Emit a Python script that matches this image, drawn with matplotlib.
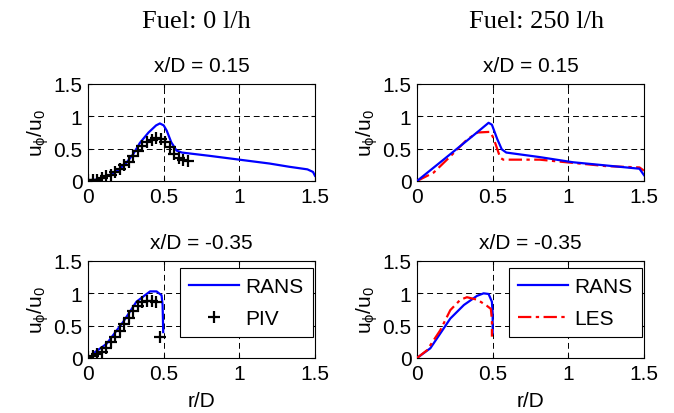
import matplotlib
matplotlib.use("Agg")
import matplotlib.pyplot as plt
import numpy as np

plt.rcParams['font.family'] = ['Liberation Sans', 'DejaVu Sans']
plt.rcParams['mathtext.fontset'] = 'custom'
plt.rcParams['mathtext.rm'] = 'Liberation Sans'
plt.rcParams['mathtext.it'] = 'Liberation Sans'

# ---- data ----
# Top-left: x/D = 0.15, fuel 0 l/h
tl_rans_r = [0.0, 0.05, 0.1, 0.15, 0.2, 0.25, 0.3, 0.343, 0.4, 0.45, 0.475, 0.5, 0.52, 0.55, 0.585, 0.62, 0.8, 1.0, 1.2, 1.33, 1.45, 1.487, 1.5]
tl_rans_u = [0.0, 0.02, 0.05, 0.1, 0.17, 0.27, 0.42, 0.59, 0.75, 0.86, 0.89, 0.86, 0.78, 0.6, 0.47, 0.44, 0.39, 0.33, 0.27, 0.22, 0.18, 0.14, 0.08]
tl_piv_r = [0.0, 0.03, 0.06, 0.09, 0.12, 0.15, 0.18, 0.21, 0.24, 0.27, 0.30, 0.33, 0.36, 0.39, 0.42, 0.45, 0.48, 0.51, 0.54, 0.57, 0.60, 0.63, 0.66]
tl_piv_u = [0.01, 0.01, 0.02, 0.04, 0.07, 0.10, 0.14, 0.18, 0.24, 0.30, 0.38, 0.46, 0.54, 0.60, 0.64, 0.66, 0.65, 0.60, 0.52, 0.42, 0.36, 0.32, 0.31]

# Top-right: x/D = 0.15, fuel 250 l/h
tr_rans_r = [0.0, 0.154, 0.286, 0.396, 0.473, 0.495, 0.53, 0.56, 0.59, 0.81, 1.03, 1.25, 1.47, 1.5]
tr_rans_u = [0.0, 0.29, 0.54, 0.75, 0.90, 0.87, 0.65, 0.49, 0.44, 0.37, 0.29, 0.24, 0.19, 0.09]
tr_les_r = [0.0, 0.11, 0.22, 0.33, 0.40, 0.484, 0.506, 0.55, 0.57, 0.81, 1.03, 1.25, 1.47, 1.5]
tr_les_u = [0.0, 0.13, 0.38, 0.64, 0.75, 0.76, 0.66, 0.36, 0.33, 0.33, 0.28, 0.23, 0.21, 0.16]

# Bottom-left: x/D = -0.35, fuel 0 l/h
bl_rans_r = [0.046, 0.123, 0.233, 0.32, 0.41, 0.453, 0.486, 0.493, 0.497]
bl_rans_u = [0.09, 0.22, 0.56, 0.87, 1.03, 1.03, 0.97, 0.82, 0.40]
bl_piv_r = [0.0, 0.03, 0.06, 0.09, 0.12, 0.15, 0.18, 0.21, 0.24, 0.27, 0.30, 0.33, 0.36, 0.39, 0.42, 0.45, 0.475]
bl_piv_u = [0.02, 0.03, 0.06, 0.10, 0.16, 0.24, 0.32, 0.42, 0.52, 0.62, 0.72, 0.80, 0.86, 0.88, 0.88, 0.86, 0.33]

# Bottom-right: x/D = -0.35, fuel 250 l/h
br_rans_r = [0.0, 0.088, 0.154, 0.22, 0.31, 0.396, 0.44, 0.473, 0.495, 0.50, 0.50]
br_rans_u = [0.0, 0.15, 0.38, 0.61, 0.82, 0.96, 1.0, 0.99, 0.87, 0.69, 0.38]
br_les_r = [0.0, 0.066, 0.154, 0.22, 0.286, 0.33, 0.40, 0.46, 0.488, 0.495, 0.495]
br_les_u = [0.0, 0.12, 0.43, 0.74, 0.90, 0.94, 0.90, 0.81, 0.76, 0.59, 0.33]

col_titles = ['Fuel: 0 l/h', 'Fuel: 250 l/h']
row_titles = ['x/D = 0.15', 'x/D = -0.35']
ticks = [0, 0.5, 1, 1.5]
tick_labels = ['0', '0.5', '1', '1.5']

FS = 15
fig = plt.figure(figsize=(6.74, 4.14), dpi=100)
lefts = [88/674, 417/674]
w = 227/674
bottoms = [1-182/414, 1-359/414]
h = 97/414

axes = {}
for i in range(2):
    for j in range(2):
        ax = fig.add_axes([lefts[j], bottoms[i], w, h])
        ax.set_xlim(0, 1.5)
        ax.set_ylim(0, 1.5)
        ax.set_xticks(ticks)
        ax.set_yticks(ticks)
        ax.set_xticklabels(tick_labels)
        ax.set_yticklabels(tick_labels)
        ax.tick_params(direction='in', labelsize=FS, length=3, top=True, right=True, pad=4)
        ax.grid(True, color='black', linestyle=(0, (6, 4)), linewidth=0.7)
        for s in ax.spines.values():
            s.set_linewidth(0.8)
        ax.set_title(row_titles[i], fontsize=FS, pad=9)
        ax.set_ylabel(r'$\mathregular{u_{\phi}/u_0}$', fontsize=FS, labelpad=2)
        if i == 1:
            ax.set_xlabel('r/D', fontsize=FS, labelpad=6)
        axes[(i, j)] = ax

blue = '#0000ff'
red = '#ff0000'
dashdot = (0, (6, 2, 1.5, 2))
leg_kw = dict(loc='upper right', bbox_to_anchor=(0.991, 0.928), borderaxespad=0.0,
              fontsize=FS, frameon=True, fancybox=False, edgecolor='black',
              framealpha=1, borderpad=0.45, handlelength=2.4, labelspacing=0.6,
              handletextpad=0.3)

ax = axes[(0, 0)]
ax.plot(tl_rans_r, tl_rans_u, color=blue, lw=1.6, zorder=3)
ax.plot(tl_piv_r, tl_piv_u, '+', color='black', ms=8, mew=1.6, zorder=4)

ax = axes[(0, 1)]
ax.plot(tr_les_r, tr_les_u, color=red, lw=1.6, linestyle=dashdot, zorder=3)
ax.plot(tr_rans_r, tr_rans_u, color=blue, lw=1.6, zorder=4)

ax = axes[(1, 0)]
ax.plot(bl_rans_r, bl_rans_u, color=blue, lw=1.6, label='RANS', zorder=3)
ax.plot(bl_piv_r, bl_piv_u, '+', color='black', ms=8, mew=1.6, label='PIV', zorder=4)
leg = ax.legend(**leg_kw)
leg.get_frame().set_linewidth(0.8)

ax = axes[(1, 1)]
ax.plot(br_rans_r, br_rans_u, color=blue, lw=1.6, label='RANS', zorder=3)
ax.plot(br_les_r, br_les_u, color=red, lw=1.6, linestyle=dashdot, label='LES', zorder=4)
leg = ax.legend(**leg_kw)
leg.get_frame().set_linewidth(0.8)

col_x = [196.5/674, 537/674]
for j in range(2):
    fig.text(col_x[j], 1-28/414, col_titles[j], ha='center', va='baseline',
             fontsize=19, family=['Liberation Serif', 'DejaVu Serif'])

fig.savefig('out.png', dpi=100)
